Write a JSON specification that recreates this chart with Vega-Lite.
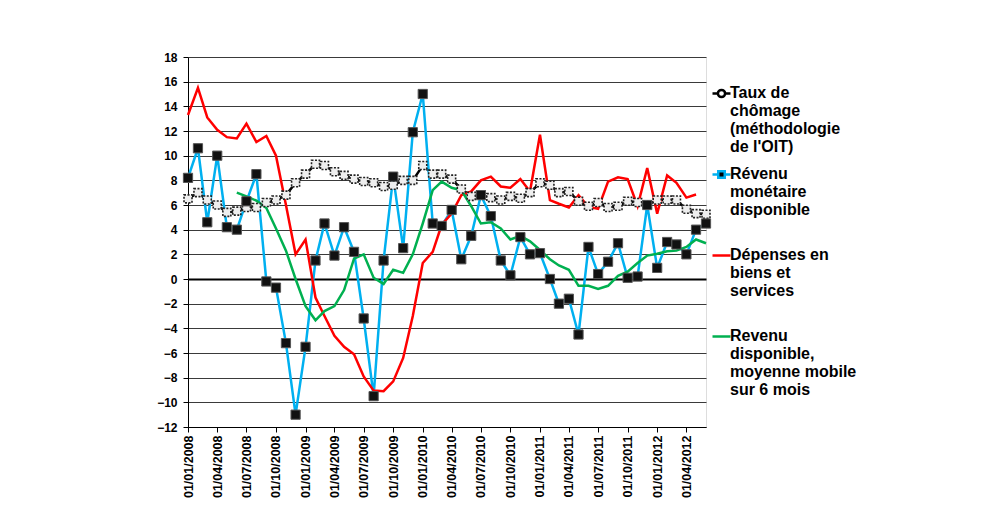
{
  "$schema": "https://vega.github.io/schema/vega-lite/v6.json",
  "width": 518,
  "height": 370,
  "autosize": "none",
  "padding": {"left": 188, "top": 57, "right": 279, "bottom": 80},
  "background": "white",
  "data": {"values": [
    {"date": "2008-01-01", "u": 6.5, "r": 8.2, "d": 13.3, "m": null},
    {"date": "2008-02-01", "u": 7.0, "r": 10.6, "d": 15.5, "m": null},
    {"date": "2008-03-01", "u": 6.4, "r": 4.6, "d": 13.1, "m": null},
    {"date": "2008-04-01", "u": 6.0, "r": 10.0, "d": 12.1, "m": null},
    {"date": "2008-05-01", "u": 5.4, "r": 4.2, "d": 11.5, "m": null},
    {"date": "2008-06-01", "u": 5.5, "r": 4.0, "d": 11.4, "m": 7.0},
    {"date": "2008-07-01", "u": 5.8, "r": 6.3, "d": 12.6, "m": 6.7},
    {"date": "2008-08-01", "u": 5.8, "r": 8.5, "d": 11.1, "m": 6.35},
    {"date": "2008-09-01", "u": 6.2, "r": -0.2, "d": 11.6, "m": 5.75},
    {"date": "2008-10-01", "u": 6.4, "r": -0.7, "d": 10.0, "m": 4.1},
    {"date": "2008-11-01", "u": 6.8, "r": -5.2, "d": 6.0, "m": 2.3},
    {"date": "2008-12-01", "u": 7.8, "r": -11.0, "d": 2.0, "m": 0.0},
    {"date": "2009-01-01", "u": 8.5, "r": -5.5, "d": 3.2, "m": -2.2},
    {"date": "2009-02-01", "u": 9.3, "r": 1.5, "d": -1.5, "m": -3.35},
    {"date": "2009-03-01", "u": 9.2, "r": 4.5, "d": -3.0, "m": -2.6},
    {"date": "2009-04-01", "u": 8.7, "r": 1.9, "d": -4.6, "m": -2.2},
    {"date": "2009-05-01", "u": 8.4, "r": 4.2, "d": -5.5, "m": -0.9},
    {"date": "2009-06-01", "u": 8.1, "r": 2.2, "d": -6.1, "m": 1.65},
    {"date": "2009-07-01", "u": 7.9, "r": -3.2, "d": -7.9, "m": 2.0},
    {"date": "2009-08-01", "u": 7.8, "r": -9.5, "d": -9.05, "m": 0.1},
    {"date": "2009-09-01", "u": 7.5, "r": 1.5, "d": -9.1, "m": -0.4},
    {"date": "2009-10-01", "u": 7.6, "r": 8.3, "d": -8.3, "m": 0.75},
    {"date": "2009-11-01", "u": 8.0, "r": 2.5, "d": -6.4, "m": 0.5},
    {"date": "2009-12-01", "u": 8.0, "r": 11.9, "d": -3.0, "m": 2.0},
    {"date": "2010-01-01", "u": 9.2, "r": 15.0, "d": 1.3, "m": 4.5},
    {"date": "2010-02-01", "u": 8.5, "r": 4.5, "d": 2.2, "m": 7.2},
    {"date": "2010-03-01", "u": 8.5, "r": 4.3, "d": 4.4, "m": 7.9},
    {"date": "2010-04-01", "u": 8.1, "r": 5.6, "d": 5.3, "m": 7.4},
    {"date": "2010-05-01", "u": 7.3, "r": 1.6, "d": 6.8, "m": 7.2},
    {"date": "2010-06-01", "u": 6.7, "r": 3.5, "d": 7.1, "m": 5.9},
    {"date": "2010-07-01", "u": 6.8, "r": 6.8, "d": 8.0, "m": 4.5},
    {"date": "2010-08-01", "u": 6.6, "r": 5.1, "d": 8.3, "m": 4.6},
    {"date": "2010-09-01", "u": 6.4, "r": 1.5, "d": 7.5, "m": 4.1},
    {"date": "2010-10-01", "u": 6.7, "r": 0.3, "d": 7.4, "m": 3.2},
    {"date": "2010-11-01", "u": 6.55, "r": 3.4, "d": 8.1, "m": 3.5},
    {"date": "2010-12-01", "u": 7.0, "r": 2.0, "d": 7.1, "m": 3.05},
    {"date": "2011-01-01", "u": 7.8, "r": 2.1, "d": 11.7, "m": 2.35},
    {"date": "2011-02-01", "u": 7.6, "r": 0.0, "d": 6.4, "m": 1.6},
    {"date": "2011-03-01", "u": 7.0, "r": -2.0, "d": 6.1, "m": 1.1},
    {"date": "2011-04-01", "u": 7.1, "r": -1.6, "d": 5.8, "m": 0.75},
    {"date": "2011-05-01", "u": 6.3, "r": -4.5, "d": 6.8, "m": -0.55},
    {"date": "2011-06-01", "u": 5.9, "r": 2.6, "d": 5.85, "m": -0.55},
    {"date": "2011-07-01", "u": 6.2, "r": 0.4, "d": 5.7, "m": -0.8},
    {"date": "2011-08-01", "u": 5.8, "r": 1.4, "d": 7.9, "m": -0.55},
    {"date": "2011-09-01", "u": 5.9, "r": 2.9, "d": 8.25, "m": 0.25},
    {"date": "2011-10-01", "u": 6.3, "r": 0.1, "d": 8.1, "m": 0.6},
    {"date": "2011-11-01", "u": 6.2, "r": 0.2, "d": 5.9, "m": 1.3},
    {"date": "2011-12-01", "u": 6.0, "r": 6.0, "d": 9.0, "m": 1.9},
    {"date": "2012-01-01", "u": 6.4, "r": 0.9, "d": 5.3, "m": 2.05},
    {"date": "2012-02-01", "u": 6.4, "r": 3.0, "d": 8.4, "m": 2.25},
    {"date": "2012-03-01", "u": 6.4, "r": 2.8, "d": 7.8, "m": 2.3},
    {"date": "2012-04-01", "u": 5.65, "r": 2.0, "d": 6.6, "m": 2.6},
    {"date": "2012-05-01", "u": 5.3, "r": 4.0, "d": 6.85, "m": 3.2},
    {"date": "2012-06-01", "u": 5.25, "r": 4.5, "d": null, "m": 2.9}
  ]},
  "transform": [
    {"fold": ["u", "r", "d", "m"], "as": ["series", "value"]},
    {"filter": "isValid(datum.value)"}
  ],
  "encoding": {
    "x": {
      "field": "date",
      "type": "temporal",
      "scale": {"type": "utc", "domain": [
        {"year": 2008, "month": 1, "date": 1, "utc": true},
        {"year": 2012, "month": 6, "date": 1, "utc": true}
      ]},
      "axis": {
        "title": null,
        "grid": false,
        "values": [
          {"year": 2008, "month": 1, "date": 1, "utc": true},
          {"year": 2008, "month": 4, "date": 1, "utc": true},
          {"year": 2008, "month": 7, "date": 1, "utc": true},
          {"year": 2008, "month": 10, "date": 1, "utc": true},
          {"year": 2009, "month": 1, "date": 1, "utc": true},
          {"year": 2009, "month": 4, "date": 1, "utc": true},
          {"year": 2009, "month": 7, "date": 1, "utc": true},
          {"year": 2009, "month": 10, "date": 1, "utc": true},
          {"year": 2010, "month": 1, "date": 1, "utc": true},
          {"year": 2010, "month": 4, "date": 1, "utc": true},
          {"year": 2010, "month": 7, "date": 1, "utc": true},
          {"year": 2010, "month": 10, "date": 1, "utc": true},
          {"year": 2011, "month": 1, "date": 1, "utc": true},
          {"year": 2011, "month": 4, "date": 1, "utc": true},
          {"year": 2011, "month": 7, "date": 1, "utc": true},
          {"year": 2011, "month": 10, "date": 1, "utc": true},
          {"year": 2012, "month": 1, "date": 1, "utc": true},
          {"year": 2012, "month": 4, "date": 1, "utc": true}
        ],
        "labelExpr": "utcFormat(datum.value, '%d/%m/%Y')",
        "labelAngle": 270,
        "labelFont": "Liberation Sans",
        "labelFontWeight": "bold",
        "labelFontSize": 12.5,
        "labelColor": "#000000",
        "labelPadding": 3,
        "labelOverlap": false,
        "labelFlush": false,
        "tickSize": 5,
        "tickColor": "#000000",
        "domainColor": "#000000",
        "domainWidth": 1
      }
    },
    "y": {
      "field": "value",
      "type": "quantitative",
      "scale": {"domain": [-12, 18], "nice": false, "zero": false},
      "axis": {
        "title": null,
        "values": [-12, -10, -8, -6, -4, -2, 0, 2, 4, 6, 8, 10, 12, 14, 16, 18],
        "labelFont": "Liberation Sans",
        "labelFontWeight": "bold",
        "labelFontSize": 12,
        "labelColor": "#000000",
        "labelPadding": 6,
        "tickSize": 5,
        "tickColor": "#000000",
        "domainColor": "#000000",
        "domainWidth": 1,
        "grid": true,
        "gridColor": {"condition": {"test": "datum.value === 0", "value": "#000000"}, "value": "#3a3a3a"},
        "gridWidth": {"condition": {"test": "datum.value === 0", "value": 2}, "value": 1},
        "gridOpacity": 1
      }
    }
  },
  "layer": [
    {
      "mark": {"type": "line", "strokeWidth": 2.5},
      "encoding": {
        "color": {
          "field": "series",
          "type": "nominal",
          "scale": {"domain": ["u", "r", "d", "m"], "range": ["#000000", "#00B0F0", "#FF0000", "#00B050"]},
          "legend": {
            "orient": "none",
            "legendX": 523,
            "legendY": 26,
            "title": null,
            "padding": 0,
            "symbolType": "stroke",
            "symbolSize": 324,
            "symbolStrokeWidth": 2.5,
            "labelFont": "Liberation Sans",
            "labelFontWeight": "bold",
            "labelFontSize": 16,
            "labelColor": "#000000",
            "labelLimit": 400,
            "labelOffset": -2,
            "labelBaseline": "top",
            "rowPadding": 9,
            "gridAlign": "all",
            "labelExpr": "datum.value == 'u' ? ['Taux de', 'chômage', '(méthodologie', \"de l'OIT)\"] : datum.value == 'r' ? ['Révenu', 'monétaire', 'disponible'] : datum.value == 'd' ? ['Dépenses en', 'biens et', 'services'] : ['Revenu', 'disponible,', 'moyenne mobile', 'sur 6 mois']",
            "encode": {
              "labels": {"update": {"dy": {"value": -8.5}, "lineHeight": {"value": 18}}},
              "symbols": {"update": {
                "shape": {"signal": "datum.value == 'u' ? 'M-1,0H-0.4M0.4,0H1M-0.4,0A0.4,0.4,0,1,1,0.4,0A0.4,0.4,0,1,1,-0.4,0Z' : datum.value == 'r' ? 'M-1,0H-0.36M0.36,0H1M-0.36,-0.36H0.36V0.36H-0.36Z' : 'M-1,0H1'"},
                "fill": {"signal": "datum.value == 'u' ? '#ffffff' : datum.value == 'r' ? '#000000' : 'transparent'"}
              }}
            }
          }
        }
      }
    },
    {
      "transform": [{"filter": "datum.series == 'u'"}],
      "mark": {"type": "point", "shape": "square", "filled": true, "fill": "#eeeeee", "stroke": "#222222", "strokeWidth": 1.6, "strokeDash": [2, 1.5], "size": 64, "opacity": 1}
    },
    {
      "transform": [{"filter": "datum.series == 'r'"}],
      "mark": {"type": "point", "shape": "square", "filled": true, "fill": "#111111", "stroke": "#555555", "strokeWidth": 1, "size": 85, "opacity": 1}
    }
  ]
}
